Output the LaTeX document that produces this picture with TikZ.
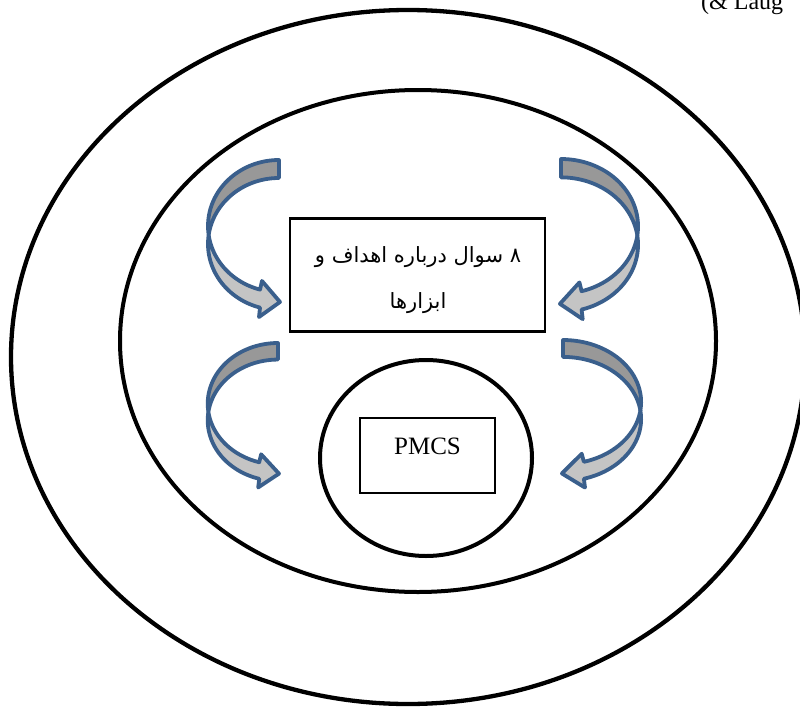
\documentclass[tikz,border=0pt]{standalone}
\usepackage{fontspec}
\setmainfont{Liberation Serif}
\newfontfamily\arabicfont[Script=Arabic]{DejaVu Sans}
\TeXXeTstate=1
\usetikzlibrary{shapes.geometric}

\definecolor{arrowblue}{RGB}{58,95,140}
\definecolor{backgray}{RGB}{152,152,152}
\definecolor{frontgray}{RGB}{196,196,196}

\tikzset{
  ring/.style={draw=black, ellipse, inner sep=0pt, line width=4.3pt},
  box/.style={draw=black, rectangle, line width=2.3pt, inner sep=0pt},
  arrowpart/.style={draw=arrowblue, line width=3.8pt, line join=round},
  % curved ribbon arrow: tail at the local origin, bends left and points right
  pics/turnarrow/.style={code={
    \path[arrowpart, fill=backgray]
      plot[domain=270:172.16, samples=40] ({71*cos(\x)}, {66+66*sin(\x)})
      -- plot[domain=187.84:270, samples=40] ({71*cos(\x)}, {84+66*sin(\x)})
      -- cycle;
    \path[arrowpart, fill=frontgray]
      plot[domain=187.84:105.5, samples=40] ({71*cos(\x)}, {84+66*sin(\x)})
      -- (-20,157) -- (1,142) -- (-17,121)
      -- plot[domain=105.5:172.16, samples=40] ({71*cos(\x)}, {66+66*sin(\x)})
      -- cycle;
  }}
}

\begin{document}
\begin{tikzpicture}[x=1pt, y=-1pt]
  \useasboundingbox (0,0) rectangle (800,709);

  % nested rings
  \node[ring, minimum width=794pt, minimum height=694pt] (outer) at (408,357) {};
  \node[ring, line width=4pt, minimum width=596pt, minimum height=502pt] (inner) at (418,341) {};
  \node[ring, line width=4pt, minimum width=212pt, minimum height=196pt] (core) at (426,458) {};

  % boxes
  \node[box, minimum width=255pt, minimum height=113pt] (goals) at (417.5,275) {};
  \node[align=center, inner sep=0pt,
        font=\arabicfont\fontsize{21}{46}\selectfont] (goalstext) at (418,280)
        {\beginR ۸ سوال درباره اهداف و\endR\\ \beginR ابزارها\endR};
  \node[box, line width=2pt, minimum width=135pt, minimum height=75pt] (pmcs) at (427.5,455.5) {};
  \node[font=\fontsize{25}{30}\selectfont, inner sep=0pt] (pmcstext) at (427.5,446) {PMCS};

  % cut citation at the top edge
  \node[anchor=base west, inner sep=0pt, font=\fontsize{24}{28}\selectfont] (cite) at (701,10) {(\& Laug};

  % curved arrows
  \pic (arrowLT) at (279,160) {turnarrow};
  \pic[xscale=0.99, yscale=0.92] (arrowLB) at (278,343) {turnarrow};
  \pic[xscale=-1.085, yscale=1.02] (arrowRT) at (561,159) {turnarrow};
  \pic[xscale=-1.1, yscale=0.94] (arrowRB) at (563,340) {turnarrow};
\end{tikzpicture}
\end{document}
